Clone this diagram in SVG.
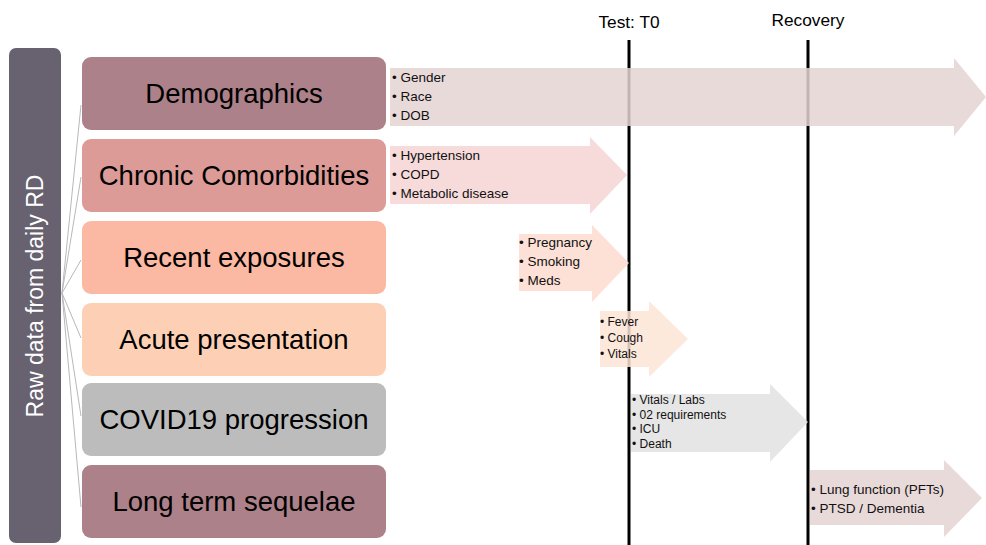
<svg xmlns="http://www.w3.org/2000/svg" width="986" height="545" viewBox="0 0 986 545">
<style>
.box{stroke:none}
.lbl{font-family:"Liberation Sans",Arial,sans-serif;font-size:27.5px;fill:#000;text-anchor:middle;dominant-baseline:central}
.it{font-family:"Liberation Sans",Arial,sans-serif;font-size:13.5px;fill:#111}
.its{font-family:"Liberation Sans",Arial,sans-serif;font-size:12px;fill:#111}
.tl{font-family:"Liberation Sans",Arial,sans-serif;font-size:17.3px;fill:#000;text-anchor:middle}
.conn{stroke:#b8b8b8;stroke-width:1;fill:none}
.vl{stroke:#000;stroke-width:3}
.arr{fill-opacity:0.85}
</style>
<rect width="986" height="545" fill="#fff"/>
<g id="timeline">
<line class="vl" x1="629" y1="40" x2="629" y2="545"/>
<line class="vl" x1="808" y1="40" x2="808" y2="545"/>
<text class="tl" x="629" y="28">Test: T0</text>
<text class="tl" x="808" y="26">Recovery</text>
</g>
<g id="connectors">
<line class="conn" x1="62" y1="293" x2="81" y2="105"/>
<line class="conn" x1="62" y1="293" x2="81" y2="177"/>
<line class="conn" x1="62" y1="293" x2="81" y2="260"/>
<line class="conn" x1="62" y1="293" x2="81" y2="338"/>
<line class="conn" x1="62" y1="293" x2="81" y2="416"/>
<line class="conn" x1="62" y1="293" x2="81" y2="507"/>
</g>
<g id="raw-data">
<rect x="9" y="48" width="52" height="495" rx="7" fill="#676170"/>
<text x="35" y="296" transform="rotate(-90 35 296)" font-family="'Liberation Sans',Arial,sans-serif" font-size="23" fill="#fff" text-anchor="middle" dominant-baseline="central">Raw data from daily RD</text>
</g>
<g id="demographics">
<rect class="box" x="82" y="57" width="304" height="73" rx="9" fill="#ad8189"/>
<text class="lbl" x="234" y="93">Demographics</text>
</g>
<g id="chronic">
<rect class="box" x="82" y="139" width="304" height="73" rx="9" fill="#dc9b97"/>
<text class="lbl" x="234" y="175">Chronic Comorbidities</text>
</g>
<g id="recent">
<rect class="box" x="82" y="221" width="304" height="73" rx="9" fill="#fbb8a3"/>
<text class="lbl" x="234" y="257">Recent exposures</text>
</g>
<g id="acute">
<rect class="box" x="82" y="303" width="304" height="73" rx="9" fill="#fdd0b5"/>
<text class="lbl" x="234" y="339">Acute presentation</text>
</g>
<g id="covid">
<rect class="box" x="82" y="383" width="304" height="73" rx="9" fill="#bcbcbc"/>
<text class="lbl" x="234" y="419">COVID19 progression</text>
</g>
<g id="longterm">
<rect class="box" x="82" y="465" width="304" height="73" rx="9" fill="#ad8189"/>
<text class="lbl" x="234" y="501">Long term sequelae</text>
</g>
<g id="arrow-demographics">
<polygon class="arr" fill="#e5d3d3" points="390,68 954,68 954,58 986,97 954,136 954,126 390,126"/>
<text class="it" x="392" y="82">• Gender</text>
<text class="it" x="392" y="101">• Race</text>
<text class="it" x="392" y="120">• DOB</text>
</g>
<g id="arrow-chronic">
<polygon class="arr" fill="#f6d5d5" points="390,146 590,146 590,137 627,175 590,214 590,204 390,204"/>
<text class="it" x="392" y="160">• Hypertension</text>
<text class="it" x="392" y="179">• COPD</text>
<text class="it" x="392" y="198">• Metabolic disease</text>
</g>
<g id="arrow-recent">
<polygon class="arr" fill="#fddcd0" points="519,234 592,234 592,225 629,263 592,302 592,291 519,291"/>
<text class="it" x="519" y="247">• Pregnancy</text>
<text class="it" x="519" y="266">• Smoking</text>
<text class="it" x="519" y="285">• Meds</text>
</g>
<g id="arrow-acute">
<polygon class="arr" fill="#fde4d6" points="600,311 649,311 649,301 688,339 649,377 649,367 600,367"/>
<text class="its" x="600" y="326">• Fever</text>
<text class="its" x="600" y="342">• Cough</text>
<text class="its" x="600" y="358">• Vitals</text>
</g>
<g id="arrow-covid">
<polygon class="arr" fill="#e2e2e2" points="631,394 770,394 770,384 808,422 770,462 770,452 631,452"/>
<text class="its" x="632" y="404">• Vitals / Labs</text>
<text class="its" x="632" y="419">• 02 requirements</text>
<text class="its" x="632" y="433">• ICU</text>
<text class="its" x="632" y="448">• Death</text>
</g>
<g id="arrow-longterm">
<polygon class="arr" fill="#e5d3d3" points="810,470 944,470 944,460 982,498 944,537 944,525 810,525"/>
<text class="it" x="811" y="494" font-size="14">• Lung function (PFTs)</text>
<text class="it" x="811" y="513" font-size="14">• PTSD / Dementia</text>
</g>
</svg>
